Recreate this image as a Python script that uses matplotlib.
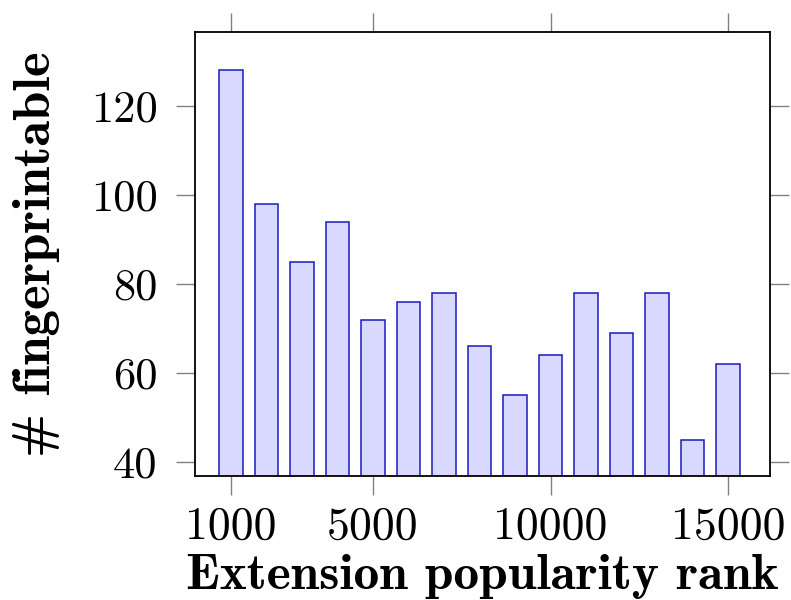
import matplotlib
matplotlib.use("Agg")
import matplotlib.pyplot as plt

# popularity rank buckets and number of fingerprintable extensions
ranks = [1000, 2000, 3000, 4000, 5000, 6000, 7000, 8000,
         9000, 10000, 11000, 12000, 13000, 14000, 15000]
counts = [128, 98, 85, 94, 72, 76, 78, 66, 55, 64, 78, 69, 78, 45, 62]

xticks = [1000, 5000, 10000, 15000]
yticks = [40, 60, 80, 100, 120]

fig = plt.figure(figsize=(7.91, 6.0), dpi=100)
ax = fig.add_axes([0.2465, 0.2067, 0.727, 0.74])

ax.bar(ranks, counts, width=660, bottom=0, color="#d9d9ff",
       edgecolor="#1a1ac0", linewidth=1.1, zorder=2)

ax.set_xlim(-14, 16183)
ax.set_ylim(36.85, 136.6)

ax.set_xticks(xticks)
ax.set_yticks(yticks)
ax.set_xticklabels([str(t) for t in xticks], fontfamily="cmr10", fontsize=33)
ax.set_yticklabels([str(t) for t in yticks], fontfamily="cmr10", fontsize=32)

ax.tick_params(direction="out", length=14, width=1.0, color="#808080",
               top=True, right=True, pad=13)
ax.tick_params(axis="x", pad=8)

for s in ax.spines.values():
    s.set_linewidth(1.3)
    s.set_color("black")

ax.set_xlabel("Extension popularity rank", fontfamily=["cmb10", "DejaVu Serif"],
              fontsize=37, labelpad=4)
ax.set_ylabel("# fingerprintable", fontfamily=["cmb10", "DejaVu Serif"],
              fontsize=38, labelpad=22)

fig.savefig("out.png", dpi=100)
